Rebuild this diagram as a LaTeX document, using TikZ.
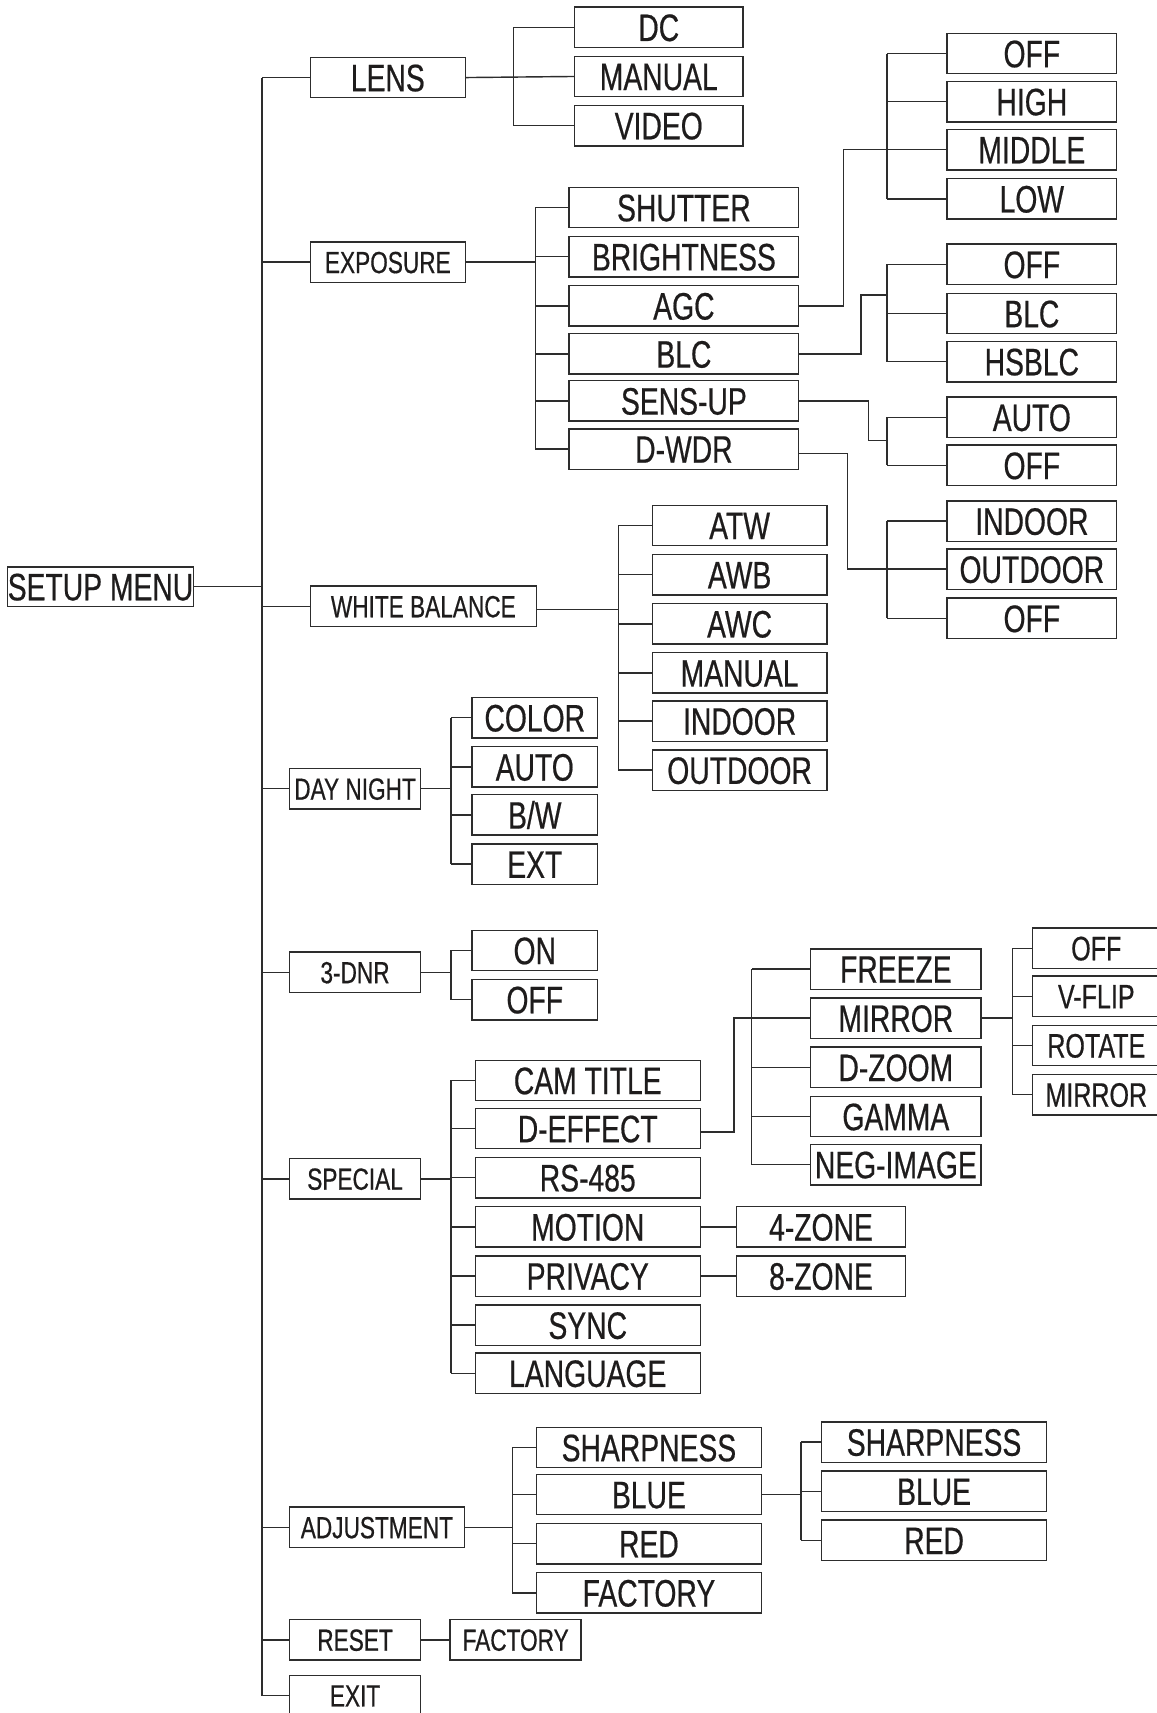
\documentclass[tikz,border=0pt]{standalone}
\usepackage{fontspec}
\setmainfont{Liberation Sans}[FakeStretch=0.74,FakeBold=0.5]
\definecolor{linec}{RGB}{45,45,45}
\definecolor{txtc}{RGB}{30,28,28}
\begin{document}
\begin{tikzpicture}[x=1pt,y=-1pt,
  box/.style={draw=linec, line width=1.3pt, minimum height=37pt, inner sep=0pt, text depth=0pt, text=txtc, anchor=center},
  big/.style={font=\fontsize{35}{35}\selectfont, text height=25pt},
  mid/.style={font=\fontsize{31}{31}\selectfont, text height=22pt},
  small/.style={font=\fontsize{28}{28}\selectfont, text height=20pt},
  wire/.style={draw=linec, line width=1.3pt},
  w1/.style={minimum width=#1pt}]
\clip (0,0) rectangle (1059,1568);
\fill[white] (0,0) rectangle (1059,1568);
% bus coordinates
\coordinate (trunk) at (240,0);
\coordinate (blens) at (470,0);
\coordinate (bexp) at (490,0);
\coordinate (brbus) at (812,0);
\coordinate (bwb) at (566,0);
\coordinate (bmid) at (413,0);
\coordinate (bdef) at (688,0);
\coordinate (bmir) at (927,0);
\coordinate (badj) at (469,0);
\coordinate (bblue) at (733,0);
\coordinate (jagc) at (772,0);
\coordinate (jblc) at (788,270);
\coordinate (jsens) at (795,403);
\coordinate (jwdr) at (776,0);
\coordinate (jdef) at (672,0);
% root and level 1
\node[box,big,w1=168,minimum height=36pt] (root) at (92,537) {SETUP MENU};
\node[box,big,w1=142] (lens) at (355,71) {LENS};
\node[box,small,w1=142] (exposure) at (355,240) {EXPOSURE};
\node[box,small,w1=207] (wb) at (387.5,555) {WHITE BALANCE};
\node[box,small,w1=120] (dn) at (325,722) {DAY NIGHT};
\node[box,small,w1=120] (dnr) at (325,890) {3-DNR};
\node[box,small,w1=120] (special) at (325,1079) {SPECIAL};
\node[box,small,w1=160] (adj) at (345,1398) {ADJUSTMENT};
\node[box,small,w1=120] (reset) at (325,1501) {RESET};
\node[box,small,w1=120] (exit) at (325,1552) {EXIT};
\node[box,small,w1=120] (rfac) at (472,1501) {FACTORY};
% lens children
\node[box,big,w1=154] (dc) at (603,25) {DC};
\node[box,big,w1=154] (lmanual) at (603,70) {MANUAL};
\node[box,big,w1=154] (video) at (603,115) {VIDEO};
% exposure children
\node[box,big,w1=210] (shutter) at (626,190) {SHUTTER};
\node[box,big,w1=210] (brightn) at (626,235) {BRIGHTNESS};
\node[box,big,w1=210] (agc) at (626,280) {AGC};
\node[box,big,w1=210] (blc) at (626,324) {BLC};
\node[box,big,w1=210] (sens) at (626,367) {SENS-UP};
\node[box,big,w1=210] (wdr) at (626,411) {D-WDR};
% AGC children
\node[box,big,w1=155] (aoff) at (944.5,49) {OFF};
\node[box,big,w1=155] (ahigh) at (944.5,93) {HIGH};
\node[box,big,w1=155] (amid) at (944.5,137) {MIDDLE};
\node[box,big,w1=155] (alow) at (944.5,182) {LOW};
% BLC children
\node[box,big,w1=155] (boff) at (944.5,242) {OFF};
\node[box,big,w1=155] (bblc) at (944.5,287) {BLC};
\node[box,big,w1=155] (bhs) at (944.5,331) {HSBLC};
% SENS-UP children
\node[box,big,w1=155] (sauto) at (944.5,382) {AUTO};
\node[box,big,w1=155] (soff) at (944.5,426) {OFF};
% D-WDR children
\node[box,big,w1=155] (win) at (944.5,477) {INDOOR};
\node[box,big,w1=155] (wout) at (944.5,521) {OUTDOOR};
\node[box,big,w1=155] (woff) at (944.5,566) {OFF};
% WB children
\node[box,big,w1=160] (atw) at (677,481) {ATW};
\node[box,big,w1=160] (awb) at (677,526) {AWB};
\node[box,big,w1=160] (awc) at (677,571) {AWC};
\node[box,big,w1=160] (wman) at (677,616) {MANUAL};
\node[box,big,w1=160] (wind) at (677,660) {INDOOR};
\node[box,big,w1=160] (wod) at (677,705) {OUTDOOR};
% day night children
\node[box,big,w1=115] (color) at (489.5,657) {COLOR};
\node[box,big,w1=115] (dauto) at (489.5,702) {AUTO};
\node[box,big,w1=115] (bw) at (489.5,746) {B/W};
\node[box,big,w1=115] (ext) at (489.5,791) {EXT};
% 3-DNR children
\node[box,big,w1=115] (on) at (489.5,870) {ON};
\node[box,big,w1=115] (noff) at (489.5,915) {OFF};
% special children
\node[box,big,w1=206] (cam) at (538,989) {CAM TITLE};
\node[box,big,w1=206] (deff) at (538,1033) {D-EFFECT};
\node[box,big,w1=206] (rs) at (538,1078) {RS-485};
\node[box,big,w1=206] (motion) at (538,1123) {MOTION};
\node[box,big,w1=206] (privacy) at (538,1168) {PRIVACY};
\node[box,big,w1=206] (sync) at (538,1213) {SYNC};
\node[box,big,w1=206] (lang) at (538,1257) {LANGUAGE};
% D-effect children
\node[box,big,w1=156] (freeze) at (820,887) {FREEZE};
\node[box,big,w1=156] (mirror) at (820,932) {MIRROR};
\node[box,big,w1=156] (dzoom) at (820,977) {D-ZOOM};
\node[box,big,w1=156] (gamma) at (820,1022) {GAMMA};
\node[box,big,w1=156] (neg) at (820,1066) {NEG-IMAGE};
% mirror children
\node[box,mid,w1=117] (moff) at (1003.5,868) {OFF};
\node[box,mid,w1=117] (vflip) at (1003.5,912) {V-FLIP};
\node[box,mid,w1=117] (rotate) at (1003.5,957) {ROTATE};
\node[box,mid,w1=117] (mmir) at (1003.5,1002) {MIRROR};
% zones
\node[box,big,w1=155] (z4) at (751.5,1123) {4-ZONE};
\node[box,big,w1=155] (z8) at (751.5,1168) {8-ZONE};
% adjustment children
\node[box,big,w1=206] (sharp) at (594,1325) {SHARPNESS};
\node[box,big,w1=206] (blue) at (594,1368) {BLUE};
\node[box,big,w1=206] (red) at (594,1413) {RED};
\node[box,big,w1=206] (fac) at (594,1458) {FACTORY};
% blue children
\node[box,big,w1=206] (bsharp) at (855,1320) {SHARPNESS};
\node[box,big,w1=206] (bblue2) at (855,1365) {BLUE};
\node[box,big,w1=206] (bred) at (855,1410) {RED};
% ---- connectors ----
% trunk
\draw[wire] (lens.west -| trunk) -- (exit.west -| trunk);
\draw[wire] (root.east) -- (root.east -| trunk);
\foreach \n in {lens,exposure,wb,dn,dnr,special,adj,reset,exit}
  \draw[wire] (\n.west) -- (\n.west -| trunk);
% lens
\draw[wire] (lens.east) -- (lmanual.west);
\draw[wire] (dc.west -| blens) -- (video.west -| blens);
\foreach \n in {dc,video} \draw[wire] (\n.west) -- (\n.west -| blens);
% exposure
\draw[wire] (exposure.east) -- (exposure.east -| bexp);
\draw[wire] (shutter.west -| bexp) -- (wdr.west -| bexp);
\foreach \n in {shutter,brightn,agc,blc,sens,wdr} \draw[wire] (\n.west) -- (\n.west -| bexp);
% right groups
\draw[wire] (aoff.west -| brbus) -- (alow.west -| brbus);
\draw[wire] (boff.west -| brbus) -- (bhs.west -| brbus);
\draw[wire] (sauto.west -| brbus) -- (soff.west -| brbus);
\draw[wire] (win.west -| brbus) -- (woff.west -| brbus);
\foreach \n in {aoff,ahigh,amid,alow,boff,bblc,bhs,sauto,soff,win,wout,woff}
  \draw[wire] (\n.west) -- (\n.west -| brbus);
\draw[wire] (agc.east) -- (agc.east -| jagc) -- (amid.west -| jagc) -- (amid.west);
\draw[wire] (blc.east) -- (blc.east -| jblc) -- (jblc) -- (jblc -| brbus);
\draw[wire] (sens.east) -- (sens.east -| jsens) -- (jsens) -- (jsens -| brbus);
\draw[wire] ([yshift=-4pt]wdr.east) -- ([yshift=-4pt]wdr.east -| jwdr) -- (wout.west -| jwdr) -- (wout.west);
% white balance
\draw[wire] ([yshift=-3pt]wb.east) -- ([yshift=-3pt]wb.east -| bwb);
\draw[wire] (atw.west -| bwb) -- (wod.west -| bwb);
\foreach \n in {atw,awb,awc,wman,wind,wod} \draw[wire] (\n.west) -- (\n.west -| bwb);
% day night
\draw[wire] (dn.east) -- (dn.east -| bmid);
\draw[wire] (color.west -| bmid) -- (ext.west -| bmid);
\foreach \n in {color,dauto,bw,ext} \draw[wire] (\n.west) -- (\n.west -| bmid);
% 3-DNR
\draw[wire] (dnr.east) -- (dnr.east -| bmid);
\draw[wire] (on.west -| bmid) -- (noff.west -| bmid);
\foreach \n in {on,noff} \draw[wire] (\n.west) -- (\n.west -| bmid);
% special
\draw[wire] (special.east) -- (special.east -| bmid);
\draw[wire] (cam.west -| bmid) -- (lang.west -| bmid);
\foreach \n in {cam,deff,rs,motion,privacy,sync,lang} \draw[wire] (\n.west) -- (\n.west -| bmid);
\draw[wire] (motion.east) -- (z4.west);
\draw[wire] (privacy.east) -- (z8.west);
% d-effect
\draw[wire] ([yshift=-3pt]deff.east) -- ([yshift=-3pt]deff.east -| jdef) -- (mirror.west -| jdef) -- (mirror.west);
\draw[wire] (freeze.west -| bdef) -- (neg.west -| bdef);
\foreach \n in {freeze,dzoom,gamma,neg} \draw[wire] (\n.west) -- (\n.west -| bdef);
% mirror
\draw[wire] (mirror.east) -- (mirror.east -| bmir);
\draw[wire] (moff.west -| bmir) -- (mmir.west -| bmir);
\foreach \n in {moff,vflip,rotate,mmir} \draw[wire] (\n.west) -- (\n.west -| bmir);
% adjustment
\draw[wire] (adj.east) -- (adj.east -| badj);
\draw[wire] (sharp.west -| badj) -- (fac.west -| badj);
\foreach \n in {sharp,blue,red,fac} \draw[wire] (\n.west) -- (\n.west -| badj);
% blue
\draw[wire] (blue.east) -- (blue.east -| bblue);
\draw[wire] (bsharp.west -| bblue) -- (bred.west -| bblue);
\foreach \n in {bsharp,bblue2,bred} \draw[wire] (\n.west) -- (\n.west -| bblue);
% reset
\draw[wire] (reset.east) -- (rfac.west);
\end{tikzpicture}
\end{document}
